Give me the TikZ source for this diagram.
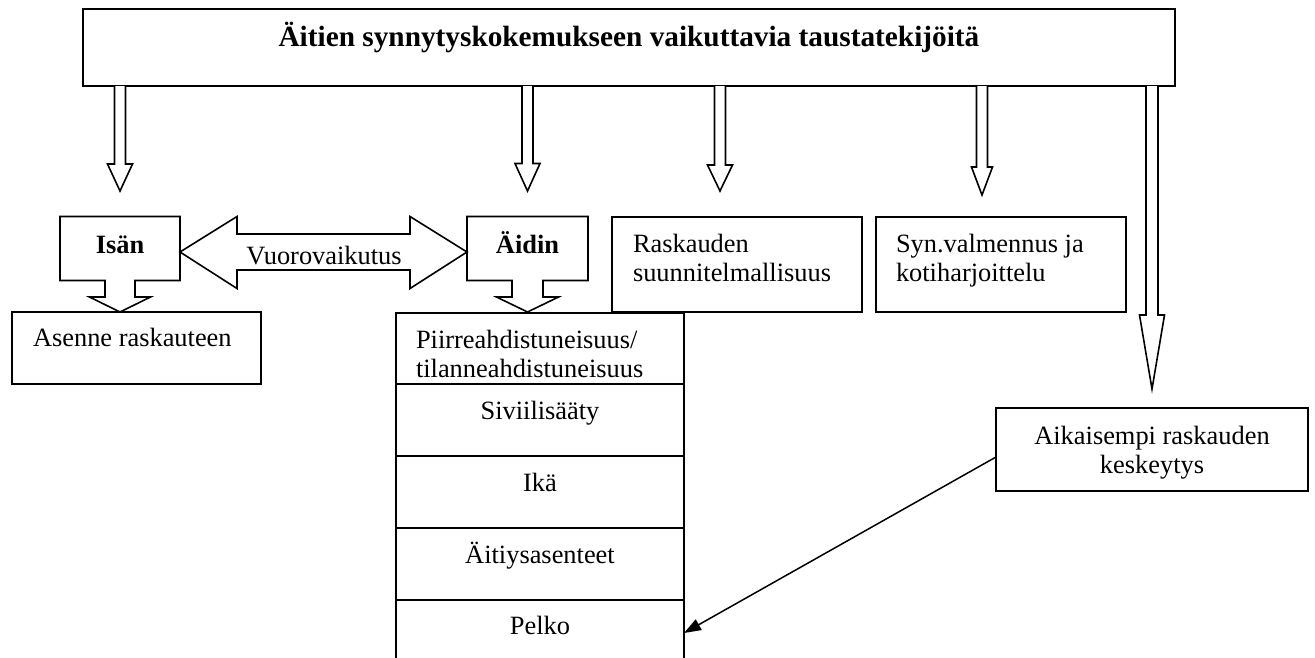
\documentclass[tikz,border=0pt]{standalone}
\usepackage{fontspec}
\setmainfont{Liberation Serif}
\usetikzlibrary{arrows.meta}
\newcommand\regsize{\fontsize{26.4}{29}\selectfont}
\newcommand\ttlsize{\fontsize{29.3}{34}\selectfont}
% x centre, y top, y head start, y tip, shaft half width, head half width
\newcommand\holdown[6]{\draw[blk] (#1-#5,#2) -- (#1-#5,#3) -- (#1-#6,#3) -- (#1,#4) -- (#1+#6,#3) -- (#1+#5,#3) -- (#1+#5,#2);}
\begin{document}
\begin{tikzpicture}[x=1pt,y=-1pt,
  box/.style={draw, line width=1.6pt, rectangle, inner sep=0pt, outer sep=0pt},
  blk/.style={draw, line width=1.6pt, fill=white, line join=miter},
  txt/.style={inner sep=0pt, outer sep=0pt, font=\regsize},
  thinarrow/.style={draw, line width=1.5pt, -{Triangle[length=17pt,width=12pt]}}
]
\useasboundingbox (0,0) rectangle (1315,657);
\clip (0,0) rectangle (1315,657);
\fill[white] (0,0) rectangle (1315,657);

% boxes
\node[box, minimum width=1092pt, minimum height=77pt] (top) at (629,47.5) {};
\node[box, minimum width=249pt, minimum height=72pt] (asenne) at (136.5,348) {};
\node[box, minimum width=250pt, minimum height=95pt] (rask) at (737,264.5) {};
\node[box, minimum width=250pt, minimum height=95pt] (syn) at (1001,264.5) {};
\node[box, minimum width=312pt, minimum height=83pt] (aik) at (1152,449.5) {};
\node[box, minimum width=288pt, minimum height=400pt, anchor=north west] (stack) at (396,313) {};
\foreach \yy in {384,456,528,600} {\draw[line width=1.6pt] (396,\yy) -- (684,\yy);}

% texts
\node[txt, font=\bfseries\ttlsize, anchor=base] (ttl) at (629,46.5) {Äitien synnytyskokemukseen vaikuttavia taustatekijöitä};
\node[txt, anchor=base west] (asenneT) at (33,346.5) {Asenne raskauteen};
\node[txt, anchor=base west] (raskT) at (633,252.5) {\begin{tabular}[t]{@{}l@{}}Raskauden\\suunnitelmallisuus\end{tabular}};
\node[txt, anchor=base west] (synT) at (896,252) {\begin{tabular}[t]{@{}l@{}}Syn.valmennus ja\\kotiharjoittelu\end{tabular}};
\node[txt, anchor=base] (aikT) at (1152,444.5) {\begin{tabular}[t]{@{}c@{}}Aikaisempi raskauden\\keskeytys\end{tabular}};
\node[txt, anchor=base west] (piirT) at (416,348) {\begin{tabular}[t]{@{}l@{}}Piirreahdistuneisuus/\\tilanneahdistuneisuus\end{tabular}};
\node[txt, anchor=base] (siviT) at (540,419) {Siviilisääty};
\node[txt, anchor=base] (ikaT) at (540,491) {Ikä};
\node[txt, anchor=base] (aitiT) at (540,563.5) {Äitiysasenteet};
\node[txt, anchor=base] (pelkoT) at (540,634.5) {Pelko};

% callouts Isän / Äidin
\draw[blk] (60,216.5) -- (180,216.5) -- (180,280.5) -- (135,280.5) -- (135,297) -- (150.5,297) -- (120,312) -- (89.5,297) -- (105,297) -- (105,280.5) -- (60,280.5) -- cycle;
\draw[blk] (467,216.5) -- (588,216.5) -- (588,280.5) -- (543,280.5) -- (543,297) -- (558.5,297) -- (527.5,312) -- (496.5,297) -- (512,297) -- (512,280.5) -- (467,280.5) -- cycle;
\node[txt, font=\bfseries\regsize, anchor=base] (isan) at (120,253) {Isän};
\node[txt, font=\bfseries\regsize, anchor=base] (aidin) at (527.5,253) {Äidin};

% double arrow
\draw[blk] (180,252) -- (237,216.5) -- (237,234) -- (410,234) -- (410,216.5) -- (467,252) -- (410,288.5) -- (410,270) -- (237,270) -- (237,288.5) -- cycle;
\node[txt, anchor=base] (vuoro) at (324,264) {Vuorovaikutus};

% hollow arrows from the top box
\holdown{120}{86}{164}{191}{5.5}{12.5}
\holdown{527.5}{86}{163.5}{191}{5.5}{12.5}
\holdown{720}{86}{165}{191}{5.5}{12.5}
\holdown{982}{86}{167}{195}{5.5}{10.5}
\holdown{1152}{86}{315}{389}{6}{12.5}

% thin arrow
\coordinate (pelkoR) at (684,633);
\draw[thinarrow] ([yshift=-7.5pt]aik.west) -- (pelkoR);
\end{tikzpicture}
\end{document}
